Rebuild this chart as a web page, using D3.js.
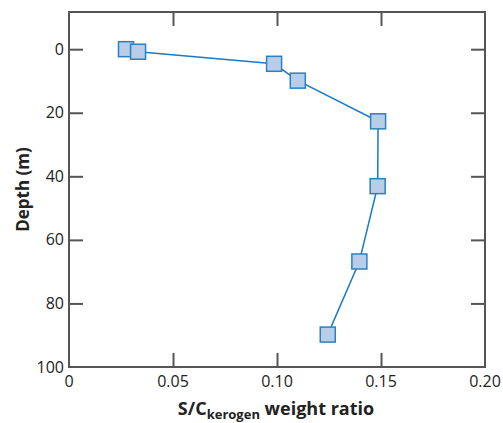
<!DOCTYPE html>
<html>
<head>
<meta charset="utf-8">
<script src="https://cdnjs.cloudflare.com/ajax/libs/d3/7.8.5/d3.min.js"></script>
<style>
  body { margin: 0; background: #fff; }
  svg text { font-family: "Open Sans", "Noto Sans", sans-serif; fill: #222; }
</style>
</head>
<body>
<svg id="chart" width="503" height="423"></svg>
<script>
// values
var ratio = [0.0274, 0.0332, 0.0986, 0.110, 0.1486, 0.1484, 0.1396, 0.1244];
var depth = [0, 0.8, 4.6, 9.9, 22.7, 43.1, 66.8, 89.8];
var xTicks = [0, 0.05, 0.10, 0.15, 0.20];
var yTicks = [0, 20, 40, 60, 80, 100];

var plotLeft = 69, plotRight = 485, plotTop = 12, plotBottom = 367;
var svg = d3.select("#chart");

var x = d3.scaleLinear().domain([0, 0.2]).range([plotLeft, plotRight]);
var y = d3.scaleLinear().domain([-11.7, 100]).range([plotTop, plotBottom]);

var axisColor = "#555";
var tickLen = 14;

// frame
svg.append("rect")
    .attr("x", plotLeft).attr("y", plotTop)
    .attr("width", plotRight - plotLeft).attr("height", plotBottom - plotTop)
    .attr("fill", "none").attr("stroke", axisColor).attr("stroke-width", 2);

// inner ticks on all four sides
var innerX = xTicks.filter(function (d) { return d > 0 && d < 0.2; });
var innerY = yTicks.filter(function (d) { return d < 100; });

function styleAxis(g) {
    g.select(".domain").remove();
    g.selectAll(".tick line").attr("stroke", axisColor).attr("stroke-width", 2);
    g.selectAll(".tick text").remove();
}

svg.append("g").attr("transform", "translate(0," + plotBottom + ")")
    .call(d3.axisTop(x).tickValues(innerX).tickSizeInner(tickLen)).call(styleAxis);
svg.append("g").attr("transform", "translate(0," + plotTop + ")")
    .call(d3.axisBottom(x).tickValues(innerX).tickSizeInner(tickLen)).call(styleAxis);
svg.append("g").attr("transform", "translate(" + plotLeft + ",0)")
    .call(d3.axisRight(y).tickValues(innerY).tickSizeInner(tickLen)).call(styleAxis);
svg.append("g").attr("transform", "translate(" + plotRight + ",0)")
    .call(d3.axisLeft(y).tickValues(innerY).tickSizeInner(tickLen)).call(styleAxis);

// tick labels
svg.selectAll(".xlab").data(xTicks).enter().append("text")
    .attr("class", "xlab")
    .attr("x", function (d) { return x(d); })
    .attr("y", 387)
    .attr("text-anchor", "middle")
    .style("font-size", "16px")
    .text(function (d) { return d === 0 ? "0" : d3.format(".2f")(d); });

svg.selectAll(".ylab").data(yTicks).enter().append("text")
    .attr("class", "ylab")
    .attr("x", plotLeft - 5)
    .attr("y", function (d) { return y(d) + 5.5; })
    .attr("text-anchor", "end")
    .style("font-size", "16px")
    .text(function (d) { return d; });

// axis titles
svg.append("text")
    .attr("transform", "translate(29," + ((plotTop + plotBottom) / 2) + ") rotate(-90)")
    .attr("text-anchor", "middle")
    .style("font-size", "17px").style("font-weight", "bold")
    .text("Depth (m)");

var xt = svg.append("text")
    .attr("x", 276)
    .attr("y", 415)
    .attr("text-anchor", "middle")
    .style("font-size", "18px").style("font-weight", "bold");
xt.append("tspan").text("S/C");
xt.append("tspan").attr("dy", 4).style("font-size", "13px").text("kerogen");
xt.append("tspan").attr("dy", -4).text(" weight ratio");

// data line and markers
var pts = ratio.map(function (r, i) { return [r, depth[i]]; });
var line = d3.line().x(function (d) { return x(d[0]); }).y(function (d) { return y(d[1]); });

svg.append("path").datum(pts)
    .attr("d", line)
    .attr("fill", "none").attr("stroke", "#1a7ac6").attr("stroke-width", 1.5);

var sz = 15;
svg.selectAll(".pt").data(pts).enter().append("rect")
    .attr("class", "pt")
    .attr("x", function (d) { return x(d[0]) - sz / 2; })
    .attr("y", function (d) { return y(d[1]) - sz / 2; })
    .attr("width", sz).attr("height", sz)
    .attr("fill", "#b9cde9").attr("stroke", "#2a80c2").attr("stroke-width", 1.5);
</script>
</body>
</html>
